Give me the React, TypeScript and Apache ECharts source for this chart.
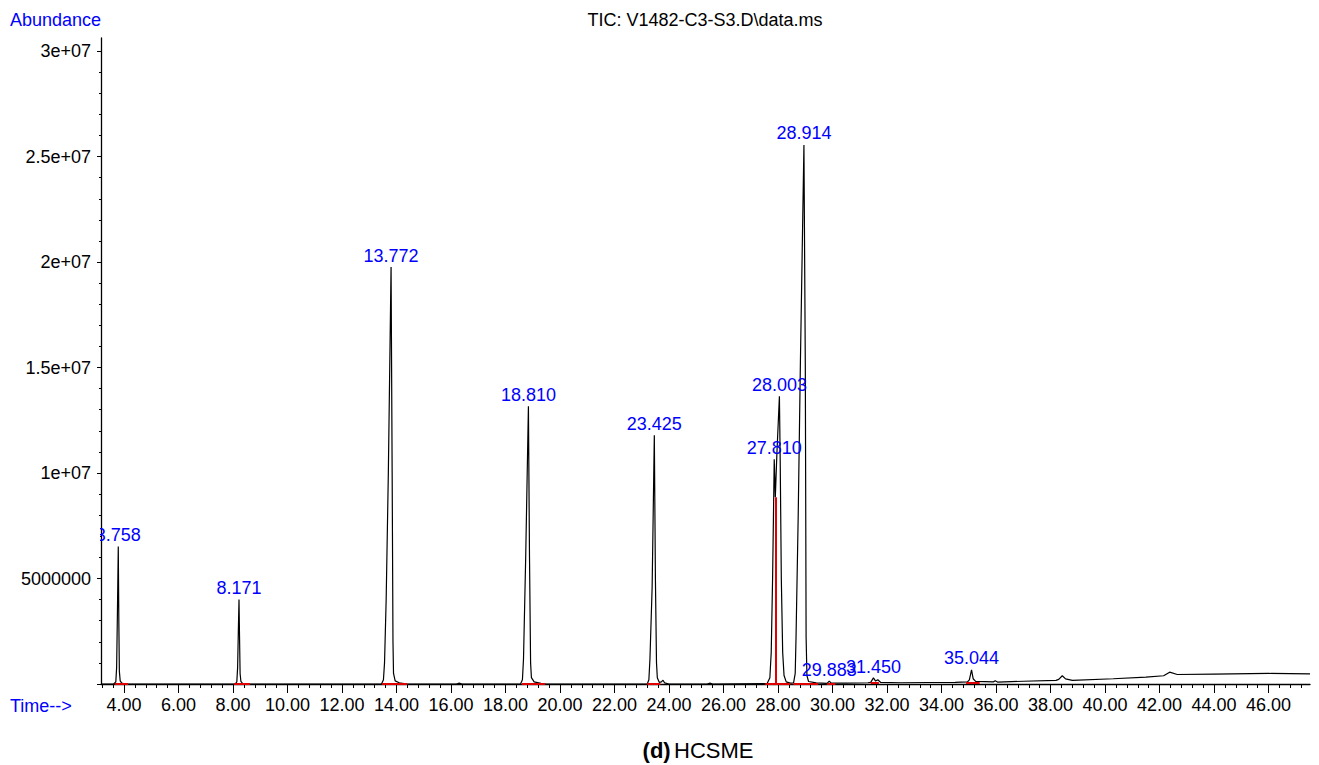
import React, { useEffect, useRef } from 'react';
import * as echarts from 'echarts';

const FONT = '"Liberation Sans", Arial, Helvetica, sans-serif';
const BLUE = '#0000ff';

// Total ion chromatogram trace: [time (min), abundance]
const ticTrace: [number, number][] = [
  [3.156, 0],
  [3.62, 0], [3.70, 0.1e6], [3.73, 0.8e6], [3.76, 3.5e6], [3.79, 6.52e6], [3.81, 3.0e6], [3.83, 0.6e6], [3.86, 0.15e6], [3.92, 0.04e6], [4.05, 0],
  [8.08, 0], [8.14, 0.1e6], [8.17, 0.8e6], [8.20, 2.8e6], [8.22, 4.01e6], [8.24, 2.2e6], [8.26, 0.5e6], [8.29, 0.12e6], [8.35, 0.03e6], [8.5, 0],
  [13.45, 0], [13.52, 0.2e6], [13.56, 1.0e6], [13.62, 4.0e6], [13.70, 10.0e6], [13.80, 19.76e6], [13.84, 10.0e6], [13.87, 2.0e6], [13.89, 0.5e6], [13.95, 0.15e6], [14.10, 0.06e6], [14.40, 0],
  [16.2, 0], [16.3, 0.04e6], [16.4, 0],
  [18.55, 0], [18.62, 0.2e6], [18.66, 1.2e6], [18.74, 6.0e6], [18.84, 13.16e6], [18.88, 6.0e6], [18.92, 1.0e6], [18.95, 0.3e6], [19.05, 0.1e6], [19.3, 0.03e6], [19.5, 0],
  [23.20, 0], [23.26, 0.2e6], [23.30, 1.2e6], [23.38, 4.6e6], [23.46, 11.79e6], [23.50, 5.0e6], [23.54, 1.0e6], [23.57, 0.3e6], [23.64, 0.08e6], [23.72, 0.1e6], [23.78, 0.18e6], [23.84, 0.05e6], [24.0, 0],
  [25.4, 0], [25.5, 0.04e6], [25.6, 0],
  [27.60, 0.02e6], [27.70, 0.3e6], [27.75, 1.5e6], [27.80, 5.0e6], [27.86, 10.65e6], [27.90, 8.85e6], [27.96, 11.0e6], [28.05, 13.64e6], [28.08, 10.5e6], [28.12, 5.0e6], [28.17, 1.5e6], [28.22, 0.4e6], [28.30, 0.1e6], [28.45, 0.04e6],
  [28.57, 0.05e6], [28.63, 0.5e6], [28.66, 2.2e6], [28.74, 8.0e6], [28.82, 15.2e6], [28.95, 25.55e6], [29.00, 15.2e6], [29.03, 2.2e6], [29.06, 0.4e6], [29.12, 0.12e6], [29.4, 0.05e6], [29.8, 0.03e6],
  [29.88, 0.14e6], [29.95, 0.04e6], [30.5, 0.04e6], [31.3, 0.06e6], [31.40, 0.08e6], [31.50, 0.29e6], [31.58, 0.14e6], [31.66, 0.2e6], [31.76, 0.08e6],
  [32.5, 0.06e6], [33.5, 0.07e6], [34.5, 0.08e6], [34.95, 0.1e6], [35.02, 0.2e6], [35.10, 0.67e6], [35.16, 0.25e6], [35.25, 0.12e6],
  [35.9, 0.1e6], [35.97, 0.15e6], [36.05, 0.09e6], [37.0, 0.13e6], [38.2, 0.17e6], [38.3, 0.22e6], [38.43, 0.39e6], [38.55, 0.24e6], [38.8, 0.17e6],
  [40.3, 0.25e6], [41.5, 0.33e6], [42.15, 0.39e6], [42.37, 0.56e6], [42.65, 0.45e6], [44.0, 0.47e6], [46.0, 0.5e6], [47.52, 0.48e6],
];

// Labelled peaks: apex time, apex abundance, retention-time label
const peakTimes = [3.79, 8.22, 13.80, 18.84, 23.46, 27.86, 28.05, 28.95, 29.88, 31.50, 35.10];
const peakHeights = [6.52e6, 4.01e6, 19.76e6, 13.16e6, 11.79e6, 10.65e6, 13.64e6, 25.55e6, 0.14e6, 0.28e6, 0.67e6];
const peakLabels = ['3.758', '8.171', '13.772', '18.810', '23.425', '27.810', '28.003', '28.914', '29.883', '31.450', '35.044'];

// Integration baselines (red)
const integStart = [3.67, 8.04, 13.47, 18.6, 23.2, 27.53, 28.56, 29.8, 31.4, 34.9];
const integEnd = [4.15, 8.62, 14.39, 19.45, 23.68, 28.45, 29.47, 30.1, 31.7, 35.4];
const integLevel = [0, 0, 0, 0, 0, 0, 0, 0.03e6, 0.06e6, 0.08e6];
const dropLineTime = 27.9;
const dropLineTop = 8.85e6;

// Axis ticks
const xTickValues = [4, 6, 8, 10, 12, 14, 16, 18, 20, 22, 24, 26, 28, 30, 32, 34, 36, 38, 40, 42, 44, 46];
const xTickLabels = ['4.00', '6.00', '8.00', '10.00', '12.00', '14.00', '16.00', '18.00', '20.00', '22.00', '24.00', '26.00', '28.00', '30.00', '32.00', '34.00', '36.00', '38.00', '40.00', '42.00', '44.00', '46.00'];
const yTickValues = [5e6, 10e6, 15e6, 20e6, 25e6, 30e6];
const yTickLabels = ['5000000', '1e+07', '1.5e+07', '2e+07', '2.5e+07', '3e+07'];

const X_MIN = 3.156;
const X_MAX = 47.52;
const Y_MAX = 3.062e7;

export default function App() {
  const ref = useRef<HTMLDivElement>(null);
  useEffect(() => {
    if (!ref.current) return;
    const chart = echarts.init(ref.current, undefined, { renderer: 'svg' });

    const xMinor: number[] = [];
    for (let i = 0; i <= 110; i++) {
      const v = Math.round((3.2 + i * 0.4) * 100) / 100;
      if (v <= X_MAX) xMinor.push(v);
    }
    const yMinor: number[] = [];
    for (let i = 0; i <= 30; i++) yMinor.push(i * 1e6);
    const yMajor = [0, ...yTickValues];

    const findLabel = (vals: number[], labels: string[], v: number) => {
      const i = vals.findIndex((t) => Math.abs(t - v) < 1e-6 * Math.max(1, Math.abs(t)));
      return i >= 0 ? labels[i] : '';
    };

    const integData = integStart.map((s, i) => ({
      coords: [[s, integLevel[i]], [integEnd[i], integLevel[i]]],
    }));
    integData.push({ coords: [[dropLineTime, 0], [dropLineTime, dropLineTop]] });

    const option: any = {
      animation: false,
      grid: { left: 101, right: 9, top: 38, bottom: 81, containLabel: false },
      xAxis: [
        {
          type: 'value', min: X_MIN, max: X_MAX, position: 'bottom',
          axisLine: { show: true, onZero: false, lineStyle: { color: '#000', width: 1.3 } },
          axisTick: { show: true, customValues: xTickValues, length: 9, lineStyle: { color: '#000', width: 1 } },
          axisLabel: {
            show: true, customValues: xTickValues, margin: 12, fontSize: 18, color: '#000', fontFamily: FONT,
            formatter: (v: number) => findLabel(xTickValues, xTickLabels, v),
          },
          splitLine: { show: false },
        },
        {
          type: 'value', min: X_MIN, max: X_MAX, position: 'bottom',
          axisLine: { show: false, onZero: false },
          axisTick: { show: true, customValues: xMinor, length: 4, lineStyle: { color: '#000', width: 1 } },
          axisLabel: { show: false },
          splitLine: { show: false },
        },
      ],
      yAxis: [
        {
          type: 'value', min: 0, max: Y_MAX, position: 'left',
          axisLine: { show: true, onZero: false, lineStyle: { color: '#000', width: 1.3 } },
          axisTick: { show: true, customValues: yMajor, length: 4, lineStyle: { color: '#000', width: 1 } },
          axisLabel: {
            show: true, customValues: yTickValues, margin: 10, fontSize: 18, color: '#000', fontFamily: FONT,
            formatter: (v: number) => findLabel(yTickValues, yTickLabels, v),
          },
          splitLine: { show: false },
        },
        {
          type: 'value', min: 0, max: Y_MAX, position: 'left',
          axisLine: { show: false, onZero: false },
          axisTick: { show: true, customValues: yMinor, length: 2, lineStyle: { color: '#000', width: 1 } },
          axisLabel: { show: false },
          splitLine: { show: false },
        },
      ],
      series: [
        {
          type: 'line', name: 'TIC', data: ticTrace, showSymbol: false, symbol: 'none', smooth: false,
          lineStyle: { color: '#000', width: 1.2 }, z: 3, silent: true,
        },
        {
          type: 'lines', coordinateSystem: 'cartesian2d', data: integData, z: 4, silent: true,
          lineStyle: { color: '#e00000', width: 2, opacity: 1 },
        },
        {
          type: 'scatter', name: 'peaks', z: 5, silent: true,
          data: peakTimes.map((t, i) => [t, peakHeights[i]]),
          symbolSize: 1, itemStyle: { color: 'rgba(0,0,0,0)', opacity: 1 },
          label: {
            show: true, position: 'top', distance: 2, color: BLUE, opacity: 1, fontSize: 18, fontFamily: FONT,
            formatter: (p: any) => peakLabels[p.dataIndex],
          },
        },
      ],
      graphic: [
        { type: 'rect', z: 50, shape: { x: 60, y: 520, width: 40, height: 30 }, style: { fill: '#fff' } },
        { type: 'text', z: 60, x: 10, y: 20, style: { text: 'Abundance', fill: BLUE, font: `18px ${FONT}`, verticalAlign: 'middle' } },
        { type: 'text', z: 60, x: 10, y: 706, style: { text: 'Time-->', fill: BLUE, font: `18px ${FONT}`, verticalAlign: 'middle' } },
        { type: 'text', z: 60, x: 705, y: 20, style: { text: 'TIC: V1482-C3-S3.D\\data.ms', fill: '#000', font: `18px ${FONT}`, align: 'center', verticalAlign: 'middle' } },
        {
          type: 'text', z: 60, x: 698, y: 750,
          style: {
            text: '{b|(d)} {n|HCSME}', align: 'center', verticalAlign: 'middle',
            rich: {
              b: { fontSize: 22, fontWeight: 'bold', fontFamily: FONT, fill: '#000' },
              n: { fontSize: 22, fontFamily: FONT, fill: '#000' },
            },
          },
        },
      ],
    };
    chart.setOption(option);
    return () => chart.dispose();
  }, []);

  return <div ref={ref} style={{ position: 'fixed', left: 0, top: 0, width: 1319, height: 765, background: '#fff' }} />;
}
